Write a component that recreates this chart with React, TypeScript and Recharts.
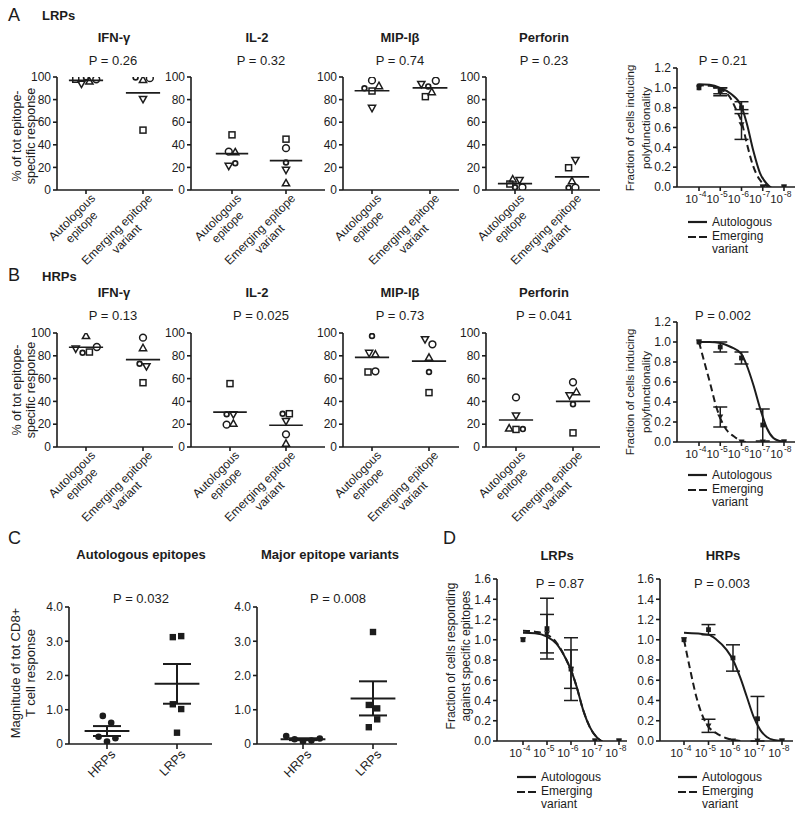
import React from "react";
import { ComposedChart, Scatter, Line, XAxis, YAxis, ReferenceLine, ErrorBar } from "recharts";

const INK = "#1c1c1c";
const SANS = '"Liberation Sans", Arial, sans-serif';

// ---- A / B: % of total epitope-specific response, five patients per group ----
// patient order (marker): square, circle, triangle, inverted triangle, diamond
const cytokines = ["IFN-γ", "IL-2", "MIP-Iβ", "Perforin"];
const lrpPValues = ["0.26", "0.32", "0.74", "0.23"];
const hrpPValues = ["0.13", "0.025", "0.73", "0.041"];
const groupLabels = [["Autologous", "epitope"], ["Emerging epitope", "variant"]];
const pctTicks = [0, 20, 40, 60, 80, 100];

const lrpIfnAuto = [98, 98, 96, 94, 99.5];
const lrpIfnVar = [53, 99, 97.5, 80.5, 99.5];
const lrpIl2Auto = [48.8, 34, 33.4, 21.3, 23.7];
const lrpIl2Var = [45, 37, 6, 17.8, 24.3];
const lrpMipAuto = [87.6, 97, 92, 72.6, 90];
const lrpMipVar = [82.6, 96.7, 86.7, 93.8, 91.7];
const lrpPerfAuto = [5.3, 2.4, 9.4, 8.8, 2.4];
const lrpPerfVar = [19.7, 2, 7.9, 26.5, 2];

const hrpIfnAuto = [83.3, 87.7, 97.4, 86.3, 82.7];
const hrpIfnVar = [56.4, 95.9, 86.8, 70.8, 73];
const hrpIl2Auto = [55.6, 19.6, 20.5, 28.7, 28.7];
const hrpIl2Var = [29.2, 11.1, 3, 22.8, 29.2];
const hrpMipAuto = [65.8, 66.4, 81.3, 82.5, 97.4];
const hrpMipVar = [47.7, 90.1, 78.4, 94.5, 65.8];
const hrpPerfAuto = [15.4, 43.5, 16.3, 27.5, 15.7];
const hrpPerfVar = [12.4, 56.8, 48.2, 45.3, 37.6];

// sideways spread of the points around each group, in group units [autologous, variant]
const lrpIfnSpread = [[-0.18, 0.18, 0.06, -0.08, 0], [0, 0.12, 0, 0, -0.13]];
const lrpIl2Spread = [[0, -0.06, 0.06, -0.06, 0.06], [0, 0, 0, 0, 0]];
const lrpMipSpread = [[0, 0, 0.12, 0, -0.13], [-0.08, 0.1, 0.03, -0.15, -0.03]];
const lrpPerfSpread = [[-0.09, 0.13, -0.04, 0.08, 0], [-0.06, 0.06, 0, 0.06, -0.06]];
const hrpIfnSpread = [[0.06, 0.19, 0, -0.18, -0.06], [0, 0, 0, 0.06, -0.06]];
const hrpIl2Spread = [[0, -0.06, 0.06, 0.06, -0.06], [0.06, 0, 0, 0, -0.06]];
const hrpMipSpread = [[-0.07, 0.06, 0.06, -0.05, 0], [0, 0.06, 0, -0.07, 0]];
const hrpPerfSpread = [[0, 0, -0.12, 0, 0.12], [0, 0, 0.06, -0.06, 0]];

// ---- C: magnitude of total CD8+ T cell response ----
const magGroups = ["HRPs", "LRPs"];
const magTicks = [0, 1, 2, 3, 4];
const magAutoHrp = [0.82, 0.62, 0.21, 0.17, 0.07];
const magAutoLrp = [3.12, 3.15, 1.16, 1.02, 0.33];
const magVarHrp = [0.23, 0.14, 0.07, 0.1, 0.16];
const magVarLrp = [3.27, 1.14, 1.04, 0.72, 0.49];
const magAutoSpread = [[-0.06, 0.06, -0.12, 0.12, 0], [-0.06, 0.06, -0.06, 0.06, 0]];
const magVarSpread = [[-0.24, -0.12, 0, 0.12, 0.24], [0, -0.06, 0.06, 0.06, -0.06]];

// ---- A/B right and D: dose response, x = exponent of 10^-x ----
const doseExponents = [4, 5, 6, 7, 8];
const polyTicks = [0, 0.2, 0.4, 0.6, 0.8, 1.0, 1.2];
const respTicks = [0, 0.2, 0.4, 0.6, 0.8, 1.0, 1.2, 1.4, 1.6];

const polyLrpAuto = [1.0, 0.97, 0.8, 0, 0];
const polyLrpAutoErr = [0, 0.03, 0.06, 0, 0];
const polyLrpVar = [1.0, 0.96, 0.63, 0, 0];
const polyLrpVarErr = [0, 0.04, 0.15, 0, 0];
const polyLrpAutoFit = [[3.9, 1.03], [4, 1.035], [4.5, 1.03], [5, 1.0], [5.5, 0.94], [6, 0.81], [6.25, 0.64], [6.55, 0.37], [6.87, 0.14], [7.2, 0.03], [7.5, -0.02], [8.05, -0.05]];
const polyLrpVarFit = [[3.9, 1.02], [4, 1.025], [4.5, 1.02], [5, 0.99], [5.5, 0.89], [5.77, 0.77], [6, 0.66], [6.25, 0.44], [6.55, 0.21], [6.87, 0.07], [7.2, 0.01], [7.5, -0.01], [8.05, -0.03]];

const polyHrpAuto = [1.0, 0.95, 0.84, 0.17, 0];
const polyHrpAutoErr = [0, 0.05, 0.06, 0.16, 0];
const polyHrpVar = [1.0, 0.25, 0, 0, 0];
const polyHrpVarErr = [0, 0.1, 0, 0, 0];
const polyHrpAutoFit = [[3.9, 1.0], [4, 1.0], [4.5, 1.0], [5, 0.99], [5.5, 0.95], [6, 0.88], [6.24, 0.77], [6.56, 0.57], [6.87, 0.34], [7.19, 0.14], [7.5, 0.04], [7.81, 0.01], [8.05, 0]];
const polyHrpVarFit = [[4, 1.0], [4.2, 0.84], [4.52, 0.59], [4.83, 0.34], [5, 0.24], [5.3, 0.12], [5.62, 0.06], [6, 0.01], [6.2, 0]];

const respLrpAuto = [1.0, 1.11, 0.71, 0, 0];
const respLrpAutoErr = [0, 0.3, 0.31, 0, 0];
const respLrpVar = [1.0, 1.06, 0.71, 0, 0];
const respLrpVarErr = [0, 0.19, 0.19, 0, 0];
const respLrpAutoFit = [[4, 1.07], [4.5, 1.065], [5, 1.03], [5.4, 0.96], [5.81, 0.8], [6, 0.7], [6.23, 0.54], [6.5, 0.31], [6.78, 0.14], [7.06, 0.04], [7.33, -0.01], [7.75, -0.06], [8, -0.07]];
const respLrpVarFit = [[4, 1.09], [4.5, 1.08], [5, 1.05], [5.4, 0.97], [5.81, 0.8], [6, 0.7], [6.23, 0.54], [6.5, 0.31], [6.78, 0.14], [7.06, 0.04], [7.33, -0.01], [7.75, -0.06], [8, -0.07]];

const respHrpAuto = [1.0, 1.1, 0.82, 0.22, 0];
const respHrpAutoErr = [0, 0.05, 0.13, 0.22, 0];
const respHrpVar = [1.0, 0.15, 0, 0, 0];
const respHrpVarErr = [0, 0.065, 0, 0, 0];
const respHrpAutoFit = [[4, 1.07], [5, 1.05], [5.33, 1.0], [5.74, 0.9], [6, 0.8], [6.29, 0.63], [6.56, 0.44], [6.84, 0.24], [7.11, 0.11], [7.38, 0.04], [7.66, 0.01], [8, 0]];
const respHrpVarFit = [[4, 1.0], [4.23, 0.73], [4.5, 0.44], [4.77, 0.24], [5, 0.14], [5.3, 0.08], [5.7, 0.03], [6, 0.01], [6.3, 0]];

// ------------------------------------------------------------------

const axisStyle = { stroke: INK, strokeWidth: 1.6 };
const mean = (a: number[]) => a.reduce((s, v) => s + v, 0) / a.length;
const sem = (a: number[]) => {
  const m = mean(a);
  const v = a.reduce((s, x) => s + (x - m) ** 2, 0) / (a.length - 1);
  return Math.sqrt(v / a.length);
};

let measureCtx: CanvasRenderingContext2D | null = null;
function textWidth(s: string, size: number) {
  if (!measureCtx) measureCtx = document.createElement("canvas").getContext("2d");
  if (!measureCtx) return s.length * size * 0.55;
  measureCtx.font = `${size}px "Liberation Sans", Arial`;
  return measureCtx.measureText(s).width;
}

// category domain so that groups 1 and 2 land on given pixel columns
function groupDomain(left: number, width: number, c1: number, c2: number): [number, number] {
  const s = c2 - c1;
  return [1 - (c1 - left) / s, 1 + (left + width - c1) / s];
}

const openMarks = [
  (p: any) => <rect x={p.cx - 3} y={p.cy - 3} width={6} height={6} fill="none" stroke={INK} strokeWidth={1.5} />,
  (p: any) => <circle cx={p.cx} cy={p.cy} r={3.4} fill="none" stroke={INK} strokeWidth={1.5} />,
  (p: any) => <path d={`M${p.cx},${p.cy - 3.8}L${p.cx + 3.6},${p.cy + 2.6}L${p.cx - 3.6},${p.cy + 2.6}Z`} fill="none" stroke={INK} strokeWidth={1.5} />,
  (p: any) => <path d={`M${p.cx},${p.cy + 3.8}L${p.cx + 3.6},${p.cy - 2.6}L${p.cx - 3.6},${p.cy - 2.6}Z`} fill="none" stroke={INK} strokeWidth={1.5} />,
  (p: any) => <circle cx={p.cx} cy={p.cy} r={2.4} fill="none" stroke={INK} strokeWidth={1.7} />,
];

const dotMark = (p: any) => <circle cx={p.cx} cy={p.cy} r={3.3} fill={INK} />;
const blockMark = (p: any) => <rect x={p.cx - 3.2} y={p.cy - 3.2} width={6.4} height={6.4} fill={INK} />;
const smallSquare = (p: any) => <rect x={p.cx - 2.4} y={p.cy - 2.4} width={4.8} height={4.8} fill={INK} />;
const smallTri = (p: any) => <path d={`M${p.cx - 3},${p.cy - 2.4}L${p.cx + 3},${p.cy - 2.4}L${p.cx},${p.cy + 3}Z`} fill={INK} />;

function GroupTick({ x, y, payload }: any) {
  const lines = groupLabels[payload.value - 1] || [];
  const bw = Math.max(...lines.map((l) => textWidth(l, 12)));
  return (
    <g transform={`translate(${x + 3},${y - 4}) rotate(-45)`}>
      {lines.map((l, i) => (
        <text key={i} x={-bw / 2} y={10 + i * 13.5} textAnchor="middle" fontSize={12} fill={INK} fontFamily={SANS}>
          {l}
        </text>
      ))}
    </g>
  );
}

function NameTick({ x, y, payload }: any) {
  return (
    <text transform={`translate(${x + 2},${y - 3}) rotate(-45)`} x={0} y={10} textAnchor="end" fontSize={12.5} fill={INK} fontFamily={SANS}>
      {magGroups[payload.value - 1]}
    </text>
  );
}

function PowTick({ x, y, payload }: any) {
  return (
    <g fontFamily={SANS} fill={INK}>
      <text x={x - 1} y={y + 10} textAnchor="end" fontSize={11.5}>10</text>
      <text x={x} y={y + 4} fontSize={8.5}>{`-${payload.value}`}</text>
    </g>
  );
}

function CytoPanel({ left, top, width, height, cats, auto, variant, spread }: any) {
  const T = 10, R = 10, L = 44, B = 100;
  const domain = groupDomain(left, width, cats[0], cats[1]);
  return (
    <div style={{ position: "absolute", left: left - L, top: top - T }}>
      <ComposedChart width={width + L + R} height={height + T + B} margin={{ top: T, right: R, bottom: 0, left: 0 }}>
        <XAxis type="number" dataKey="x" domain={domain} allowDataOverflow ticks={[1, 2]} interval={0} height={B}
          tickSize={4} axisLine={axisStyle} tickLine={axisStyle} tick={(p: any) => <GroupTick {...p} />} />
        <YAxis type="number" dataKey="y" domain={[0, 100]} allowDataOverflow ticks={pctTicks} interval={0} width={L}
          tickSize={4} axisLine={axisStyle} tickLine={axisStyle} tick={{ fontSize: 12, fill: INK, fontFamily: SANS }} />
        {[auto, variant].map((g: number[], k: number) => (
          <ReferenceLine key={`m${k}`} segment={[{ x: k + 0.7, y: mean(g) }, { x: k + 1.3, y: mean(g) }]} stroke={INK} strokeWidth={1.7} />
        ))}
        {openMarks.map((Mark, i) => (
          <Scatter key={i} data={[{ x: 1 + spread[0][i], y: auto[i] }, { x: 2 + spread[1][i], y: variant[i] }]}
            dataKey="y" shape={Mark} isAnimationActive={false} />
        ))}
      </ComposedChart>
    </div>
  );
}

function MagPanel({ left, top, width, height, cats, hrp, lrp, spread }: any) {
  const T = 10, R = 10, L = 40, B = 50;
  const domain = groupDomain(left, width, cats[0], cats[1]);
  const bars: any[] = [];
  [hrp, lrp].forEach((g: number[], k: number) => {
    const c = k + 1, m = mean(g), se = sem(g);
    bars.push(<ReferenceLine key={`m${k}`} segment={[{ x: c - 0.32, y: m }, { x: c + 0.32, y: m }]} stroke={INK} strokeWidth={2} />);
    bars.push(<ReferenceLine key={`t${k}`} segment={[{ x: c - 0.2, y: m + se }, { x: c + 0.2, y: m + se }]} stroke={INK} strokeWidth={2} />);
    bars.push(<ReferenceLine key={`b${k}`} segment={[{ x: c - 0.2, y: m - se }, { x: c + 0.2, y: m - se }]} stroke={INK} strokeWidth={2} />);
    bars.push(<ReferenceLine key={`v${k}`} segment={[{ x: c, y: m - se }, { x: c, y: m + se }]} stroke={INK} strokeWidth={2} />);
  });
  return (
    <div style={{ position: "absolute", left: left - L, top: top - T }}>
      <ComposedChart width={width + L + R} height={height + T + B} margin={{ top: T, right: R, bottom: 0, left: 0 }}>
        <XAxis type="number" dataKey="x" domain={domain} allowDataOverflow ticks={[1, 2]} interval={0} height={B}
          tickSize={5} axisLine={axisStyle} tickLine={axisStyle} tick={(p: any) => <NameTick {...p} />} />
        <YAxis type="number" dataKey="y" domain={[0, 4]} allowDataOverflow ticks={magTicks} interval={0} width={L}
          tickSize={4} axisLine={axisStyle} tickLine={axisStyle}
          tickFormatter={(v: number) => (v === 0 ? "0" : v.toFixed(1))}
          tick={{ fontSize: 12, fill: INK, fontFamily: SANS }} />
        {bars}
        <Scatter data={hrp.map((v: number, i: number) => ({ x: 1 + spread[0][i], y: v }))} dataKey="y" shape={dotMark} isAnimationActive={false} />
        <Scatter data={lrp.map((v: number, i: number) => ({ x: 2 + spread[1][i], y: v }))} dataKey="y" shape={blockMark} isAnimationActive={false} />
      </ComposedChart>
    </div>
  );
}

function DosePanel({ left, top, width, height, p4, p8, ticks, auto, autoErr, variant, variantErr, autoFit, variantFit }: any) {
  const T = 10, R = 12, L = 40, B = 24;
  const s = (p8 - p4) / 4;
  const domain = [4 - (p4 - left) / s, 4 + (left + width - p4) / s];
  const ymax = ticks[ticks.length - 1];
  const pts = (ys: number[], es: number[]) => doseExponents.map((d, i) => ({ x: d, y: ys[i], e: es[i] }));
  const fit = (f: number[][]) => f.map(([x, y]) => ({ x, y }));
  return (
    <div style={{ position: "absolute", left: left - L, top: top - T }}>
      <ComposedChart width={width + L + R} height={height + T + B} margin={{ top: T, right: R, bottom: 0, left: 0 }}>
        <XAxis type="number" dataKey="x" domain={domain} allowDataOverflow ticks={doseExponents} interval={0} height={B}
          tickSize={4} axisLine={axisStyle} tickLine={axisStyle} tick={(p: any) => <PowTick {...p} />} />
        <YAxis type="number" dataKey="y" domain={[0, ymax]} allowDataOverflow ticks={ticks} interval={0} width={L}
          tickSize={4} axisLine={axisStyle} tickLine={axisStyle}
          tickFormatter={(v: number) => v.toFixed(1)}
          tick={{ fontSize: 12, fill: INK, fontFamily: SANS }} />
        <Line data={fit(autoFit)} dataKey="y" type="monotone" dot={false} stroke={INK} strokeWidth={2} isAnimationActive={false} />
        <Line data={fit(variantFit)} dataKey="y" type="monotone" dot={false} stroke={INK} strokeWidth={2} strokeDasharray="7 4" isAnimationActive={false} />
        <Scatter data={pts(variant, variantErr)} dataKey="y" shape={smallTri} isAnimationActive={false}>
          <ErrorBar dataKey="e" direction="y" width={7} stroke={INK} strokeWidth={1.5} />
        </Scatter>
        <Scatter data={pts(auto, autoErr)} dataKey="y" shape={smallSquare} isAnimationActive={false}>
          <ErrorBar dataKey="e" direction="y" width={7} stroke={INK} strokeWidth={1.5} />
        </Scatter>
      </ComposedChart>
    </div>
  );
}

function Txt({ x, y, size = 13, bold = false, left = false, children }: any) {
  return (
    <div style={{
      position: "absolute", left: x, top: y, fontSize: size, fontWeight: bold ? 700 : 400, lineHeight: 1,
      whiteSpace: "nowrap", transform: left ? "translate(0,-50%)" : "translate(-50%,-50%)",
    }}>
      {children}
    </div>
  );
}

function VLabel({ x, y, lines, size, gap }: any) {
  return (
    <div style={{
      position: "absolute", left: x, top: y, fontSize: size, lineHeight: `${gap}px`, textAlign: "center",
      whiteSpace: "nowrap", transform: "translate(-50%,-50%) rotate(-90deg)",
    }}>
      {lines.map((l: string) => <div key={l}>{l}</div>)}
    </div>
  );
}

function DoseLegend({ x, y }: any) {
  return (
    <div style={{ position: "absolute", left: x, top: y, fontSize: 12, width: 90, height: 40 }}>
      <svg width={22} height={30} style={{ position: "absolute", left: 0, top: 0 }}>
        <line x1={0} x2={19} y1={7} y2={7} stroke={INK} strokeWidth={2.2} />
        <line x1={0} x2={19} y1={22} y2={22} stroke={INK} strokeWidth={2.2} strokeDasharray="8 3" />
      </svg>
      <div style={{ position: "absolute", left: 24, top: 0, lineHeight: "14px" }}>Autologous</div>
      <div style={{ position: "absolute", left: 24, top: 15, lineHeight: "13px" }}>Emerging<br />variant</div>
    </div>
  );
}

const cytoLeft = [57, 191, 343, 486];
const cytoWidth = [116, 134, 116, 114];
const lrpCats = [[86, 143], [232, 286], [372, 430], [515, 572]];
const hrpCats = [[86, 143], [230, 286], [372, 429], [516, 573]];
const titleX = [114, 257, 400, 544];
const pX = [113, 261, 400, 544];

export default function App() {
  const lrpRow = [
    [lrpIfnAuto, lrpIfnVar, lrpIfnSpread],
    [lrpIl2Auto, lrpIl2Var, lrpIl2Spread],
    [lrpMipAuto, lrpMipVar, lrpMipSpread],
    [lrpPerfAuto, lrpPerfVar, lrpPerfSpread],
  ];
  const hrpRow = [
    [hrpIfnAuto, hrpIfnVar, hrpIfnSpread],
    [hrpIl2Auto, hrpIl2Var, hrpIl2Spread],
    [hrpMipAuto, hrpMipVar, hrpMipSpread],
    [hrpPerfAuto, hrpPerfVar, hrpPerfSpread],
  ];
  const pctLabel = ["% of tot epitope-", "specific response"];
  const polyLabel = ["Fraction of cells inducing", "polyfunctionality"];

  return (
    <div style={{ position: "absolute", left: 0, top: 0, width: 800, height: 817, background: "#fff", fontFamily: SANS, color: INK, overflow: "hidden" }}>
      {/* A */}
      <Txt x={8} y={15} size={18} left>A</Txt>
      <Txt x={42} y={15} bold left>LRPs</Txt>
      {cytokines.map((c, i) => <Txt key={c} x={titleX[i]} y={37} bold>{c}</Txt>)}
      {lrpPValues.map((p, i) => <Txt key={i} x={pX[i]} y={60}>{`P = ${p}`}</Txt>)}
      <VLabel x={23.5} y={136} lines={pctLabel} size={12.5} gap={13.5} />
      {lrpRow.map(([a, v, s], i) => (
        <CytoPanel key={i} left={cytoLeft[i]} top={77} width={cytoWidth[i]} height={113} cats={lrpCats[i]} auto={a} variant={v} spread={s} />
      ))}
      <Txt x={723} y={60}>P = 0.21</Txt>
      <VLabel x={638} y={128} lines={polyLabel} size={11.5} gap={15.5} />
      <DosePanel left={677} top={68} width={118} height={119} p4={699} p8={784} ticks={polyTicks}
        auto={polyLrpAuto} autoErr={polyLrpAutoErr} variant={polyLrpVar} variantErr={polyLrpVarErr}
        autoFit={polyLrpAutoFit} variantFit={polyLrpVarFit} />
      <DoseLegend x={688} y={215} />

      {/* B */}
      <Txt x={8} y={275} size={18} left>B</Txt>
      <Txt x={42} y={276} bold left>HRPs</Txt>
      {cytokines.map((c, i) => <Txt key={c} x={titleX[i]} y={292} bold>{c}</Txt>)}
      {hrpPValues.map((p, i) => <Txt key={i} x={pX[i]} y={315}>{`P = ${p}`}</Txt>)}
      <VLabel x={23.5} y={390} lines={pctLabel} size={12.5} gap={13.5} />
      {hrpRow.map(([a, v, s], i) => (
        <CytoPanel key={i} left={cytoLeft[i]} top={333} width={cytoWidth[i]} height={114} cats={hrpCats[i]} auto={a} variant={v} spread={s} />
      ))}
      <Txt x={723} y={315}>P = 0.002</Txt>
      <VLabel x={638} y={392} lines={polyLabel} size={11.5} gap={15.5} />
      <DosePanel left={677} top={322} width={118} height={120} p4={699} p8={784} ticks={polyTicks}
        auto={polyHrpAuto} autoErr={polyHrpAutoErr} variant={polyHrpVar} variantErr={polyHrpVarErr}
        autoFit={polyHrpAutoFit} variantFit={polyHrpVarFit} />
      <DoseLegend x={688} y={468} />

      {/* C */}
      <Txt x={8} y={538} size={18} left>C</Txt>
      <Txt x={141} y={554} bold>Autologous epitopes</Txt>
      <Txt x={330} y={554} bold>Major epitope variants</Txt>
      <Txt x={141} y={598}>P = 0.032</Txt>
      <Txt x={338} y={598}>P = 0.008</Txt>
      <VLabel x={22.5} y={673} lines={["Magnitude of tot CD8+", "T cell response"]} size={13} gap={15} />
      <MagPanel left={69} top={607} width={143} height={137} cats={[107, 177]} hrp={magAutoHrp} lrp={magAutoLrp} spread={magAutoSpread} />
      <MagPanel left={257} top={607} width={140} height={137} cats={[303, 373]} hrp={magVarHrp} lrp={magVarLrp} spread={magVarSpread} />

      {/* D */}
      <Txt x={443} y={538} size={18} left>D</Txt>
      <Txt x={557} y={555} bold>LRPs</Txt>
      <Txt x={723} y={555} bold>HRPs</Txt>
      <Txt x={560} y={583}>P = 0.87</Txt>
      <Txt x={722} y={583}>P = 0.003</Txt>
      <VLabel x={458.5} y={656} lines={["Fraction of cells responding", "against specific epitopes"]} size={12} gap={15} />
      <DosePanel left={497} top={579} width={130} height={162} p4={523} p8={619} ticks={respTicks}
        auto={respLrpAuto} autoErr={respLrpAutoErr} variant={respLrpVar} variantErr={respLrpVarErr}
        autoFit={respLrpAutoFit} variantFit={respLrpVarFit} />
      <DosePanel left={660} top={579} width={133} height={162} p4={684} p8={782} ticks={respTicks}
        auto={respHrpAuto} autoErr={respHrpAutoErr} variant={respHrpVar} variantErr={respHrpVarErr}
        autoFit={respHrpAutoFit} variantFit={respHrpVarFit} />
      <DoseLegend x={517} y={770} />
      <DoseLegend x={678} y={770} />
    </div>
  );
}
